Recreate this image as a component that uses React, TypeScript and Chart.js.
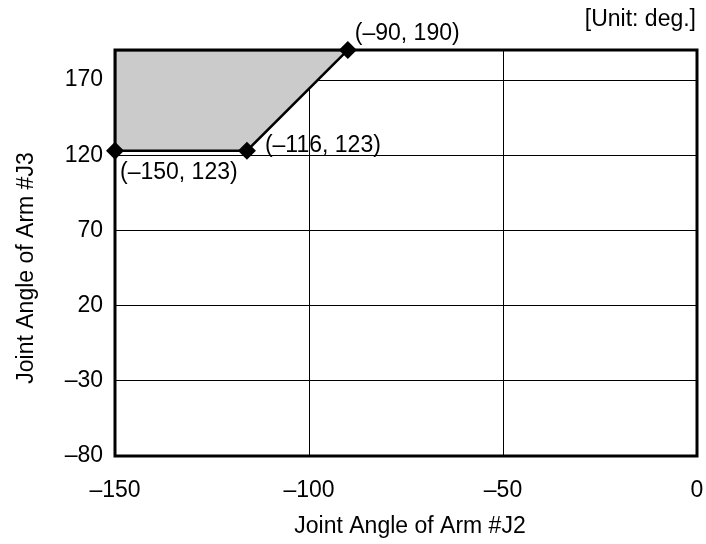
import React, { useEffect, useRef } from "react";
import { Chart, registerables } from "chart.js";
Chart.register(...registerables);

// ---- data ----
const REGION_J2 = [-150, -116, -90, -150, -150];
const REGION_J3 = [123, 123, 190, 190, 123];
const CORNER_J2 = [-150, -116, -90];
const CORNER_J3 = [123, 123, 190];
const X_TICKS = [-150, -100, -50, 0];
const Y_TICKS = [-80, -30, 20, 70, 120, 170];
const X_MIN = -150;
const X_MAX = 0;
const Y_MIN = -80;
const Y_MAX = 190;
const X_TITLE = "Joint Angle of Arm #J2";
const Y_TITLE = "Joint Angle of Arm #J3";
const UNIT_TEXT = "[Unit: deg.]";

const fmt = (v: number) => (v < 0 ? "\u2013" + Math.abs(v) : String(v));
const CORNER_LABELS = CORNER_J2.map((x, i) => "(" + fmt(x) + ", " + fmt(CORNER_J3[i]) + ")");

// ---- style ----
const FONT_FAMILY = "'Liberation Sans', Arial, Helvetica, sans-serif";
const FONT_SIZE = 23;
const LABEL_OFFSETS = [
  [5, 22],
  [18, -5],
  [7, -16],
];

const textPlugin = {
  id: "texts",
  afterDraw(chart: any) {
    const ctx = chart.ctx;
    const { chartArea, scales } = chart;
    ctx.save();
    ctx.fillStyle = "#000";
    ctx.font = `${FONT_SIZE}px ${FONT_FAMILY}`;
    // frame
    ctx.strokeStyle = "#000";
    ctx.lineWidth = 3;
    ctx.strokeRect(chartArea.left, chartArea.top, chartArea.right - chartArea.left, chartArea.bottom - chartArea.top);
    // x title
    ctx.textAlign = "center";
    ctx.textBaseline = "middle";
    ctx.fillText(X_TITLE, (chartArea.left + chartArea.right) / 2 + 4, 527);
    // y title
    ctx.save();
    ctx.translate(27, (chartArea.top + chartArea.bottom) / 2 + 15);
    ctx.rotate(-Math.PI / 2);
    ctx.fillText(Y_TITLE, 0, 0);
    ctx.restore();
    // unit
    ctx.textAlign = "right";
    ctx.fillText(UNIT_TEXT, chartArea.right - 1, 20);
    // corner labels
    ctx.textAlign = "left";
    CORNER_LABELS.forEach((lab, i) => {
      const px = scales.x.getPixelForValue(CORNER_J2[i]);
      const py = scales.y.getPixelForValue(CORNER_J3[i]);
      ctx.fillText(lab, px + LABEL_OFFSETS[i][0], py + LABEL_OFFSETS[i][1]);
    });
    ctx.restore();
  },
};

export default function App() {
  const ref = useRef<HTMLCanvasElement | null>(null);
  useEffect(() => {
    document.body.style.margin = "0";
    const canvas = ref.current!;
    const chart = new Chart(canvas, {
      type: "scatter",
      data: {
        datasets: [
          {
            data: CORNER_J2.map((x, i) => ({ x, y: CORNER_J3[i] })),
            pointStyle: "rectRot",
            pointRadius: 9,
            pointBackgroundColor: "#000",
            pointBorderColor: "#000",
            pointBorderWidth: 0,
            showLine: false,
            clip: false,
            order: 0,
          } as any,
          {
            data: REGION_J2.map((x, i) => ({ x, y: REGION_J3[i] })),
            showLine: true,
            fill: "shape",
            backgroundColor: "#cbcbcb",
            borderColor: "#000",
            borderWidth: 2.5,
            pointRadius: 0,
            tension: 0,
            order: 1,
          } as any,
        ],
      },
      options: {
        animation: false,
        responsive: false,
        devicePixelRatio: 1,
        layout: { padding: { left: 0, top: 50, right: 7, bottom: 0 } },
        plugins: { legend: { display: false }, tooltip: { enabled: false } },
        scales: {
          x: {
            type: "linear",
            min: X_MIN,
            max: X_MAX,
            afterBuildTicks: (s: any) => {
              s.ticks = X_TICKS.map((v) => ({ value: v }));
            },
            afterFit: (s: any) => {
              s.height = 88;
              s.paddingLeft = 0;
              s.paddingRight = 0;
            },
            grid: { color: "#000", lineWidth: 1, drawTicks: false },
            border: { display: false },
            ticks: {
              color: "#000",
              padding: 21,
              maxRotation: 0,
              autoSkip: false,
              font: { family: FONT_FAMILY, size: FONT_SIZE },
              callback: (v: any) => fmt(Number(v)),
            },
          },
          y: {
            type: "linear",
            min: Y_MIN,
            max: Y_MAX,
            afterBuildTicks: (s: any) => {
              s.ticks = Y_TICKS.map((v) => ({ value: v }));
            },
            afterFit: (s: any) => {
              s.width = 115;
              s.paddingTop = 0;
              s.paddingBottom = 0;
            },
            grid: { color: "#000", lineWidth: 1, drawTicks: false },
            border: { display: false },
            ticks: {
              color: "#000",
              padding: 12,
              autoSkip: false,
              font: { family: FONT_FAMILY, size: FONT_SIZE },
              callback: (v: any) => fmt(Number(v)),
            },
          },
        },
      } as any,
      plugins: [textPlugin],
    });
    return () => chart.destroy();
  }, []);
  return (
    <div style={{ width: 706, height: 544 }}>
      <canvas ref={ref} width={706} height={544} style={{ display: "block", width: 706, height: 544 }} />
    </div>
  );
}
